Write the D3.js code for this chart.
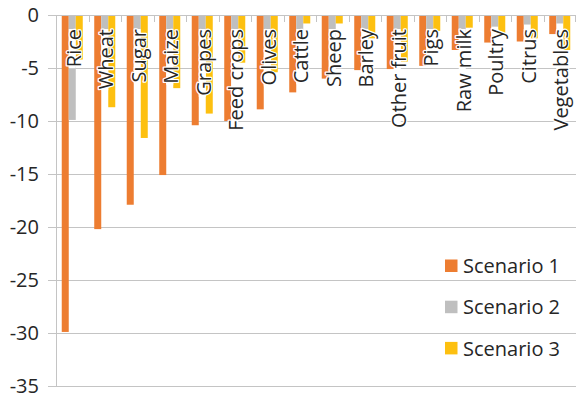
<!DOCTYPE html>
<html><head><meta charset="utf-8">
<script src="https://cdn.jsdelivr.net/npm/d3@7"></script>
<style>body{margin:0;background:#fff}svg{display:block}</style>
</head><body>
<script>
const categories = ["Rice","Wheat","Sugar","Maize","Grapes","Feed crops","Olives","Cattle","Sheep","Barley","Other fruit","Pigs","Raw milk","Poultry","Citrus","Vegetables"];
const seriesNames = ["Scenario 1","Scenario 2","Scenario 3"];
const scenario1 = [-29.9,-20.2,-17.9,-15.1,-10.4,-10.0,-8.9,-7.3,-6.0,-5.2,-5.1,-4.8,-3.3,-2.6,-2.5,-1.8];
const scenario2 = [-9.9,-6.5,-6.4,-5.5,-4.0,-3.5,-3.0,-2.0,-2.0,-2.5,-2.5,-2.0,-2.2,-1.1,-0.9,-0.8];
const scenario3 = [-4.2,-8.7,-11.6,-6.9,-9.3,-4.5,-5.4,-0.8,-0.8,-2.2,-4.4,-1.5,-1.2,-1.9,-2.2,-3.3];
const yTicks = [0,-5,-10,-15,-20,-25,-30,-35];
const colors = ["#ED7D31","#BFBFBF","#FDC010"];

(function(){
const W = 576, H = 396;
const svg = d3.select("body").append("svg").attr("width", W).attr("height", H);
const font = "'Open Sans', sans-serif";
const mL = 56, mR = 576, mT = 15, mB = 386;

const x = d3.scaleBand().domain(categories).range([mL, mR]).paddingInner(0).paddingOuter(0);
const y = d3.scaleLinear().domain([-35, 0]).range([mB, mT]);
const inner = d3.scaleBand().domain(seriesNames).range([0, x.bandwidth()]).paddingInner(0).paddingOuter(0.82);

svg.append("g").selectAll("line").data(yTicks).join("line")
  .attr("x1", mL - 8).attr("x2", mR)
  .attr("y1", d => Math.round(y(d)) + 0.5).attr("y2", d => Math.round(y(d)) + 0.5)
  .attr("stroke", "#c4c4c4").attr("stroke-width", 1);

svg.append("line").attr("x1", mL + 0.5).attr("x2", mL + 0.5)
  .attr("y1", mT).attr("y2", mB + 1).attr("stroke", "#c4c4c4");

svg.append("g").selectAll("text").data(yTicks).join("text")
  .attr("x", 39).attr("y", d => y(d)).attr("dy", "0.34em")
  .attr("text-anchor", "end").attr("font-family", font).attr("font-size", 20)
  .attr("fill", "#262626").text(d => d);

const series = [scenario1, scenario2, scenario3];
series.forEach((vals, si) => {
  svg.append("g").selectAll("rect").data(vals).join("rect")
    .attr("x", (d, i) => x(categories[i]) + inner(seriesNames[si]))
    .attr("width", inner.bandwidth())
    .attr("y", y(0))
    .attr("height", d => y(d) - y(0))
    .attr("fill", colors[si]);
});

const bounds = categories.map(c => x(c)).concat([mR - 1]);
svg.append("g").selectAll("line").data(bounds).join("line")
  .attr("x1", d => Math.round(d) + 0.5).attr("x2", d => Math.round(d) + 0.5)
  .attr("y1", mT).attr("y2", mT + 7).attr("stroke", "#c4c4c4");
svg.append("line").attr("x1", mL).attr("x2", mR)
  .attr("y1", Math.round(y(0)) + 0.5).attr("y2", Math.round(y(0)) + 0.5).attr("stroke", "#c4c4c4");

// category labels with white backing over the middle (Scenario 2) column
const labelEnd = 29;
const lblG = svg.append("g");
const bgG = lblG.append("g");
const txt = lblG.append("g").selectAll("text").data(categories).join("text")
  .attr("transform", d => `translate(${x(d) + x.bandwidth() / 2 + 8.5},${labelEnd}) rotate(-90)`)
  .attr("text-anchor", "end").attr("font-family", font).attr("font-size", 20)
  .attr("fill", "#262626")
  .attr("stroke", "#fff").attr("stroke-width", 2.5).attr("paint-order", "stroke")
  .attr("stroke-linejoin", "round")
  .text(d => d);
txt.each(function(d) {
  const len = this.getComputedTextLength();
  bgG.append("rect")
    .attr("x", x(d) + inner(seriesNames[1]))
    .attr("width", inner.bandwidth())
    .attr("y", labelEnd)
    .attr("height", len + 1)
    .attr("fill", "#fff");
});

const lg = svg.append("g");
seriesNames.forEach((s, i) => {
  const yy = 259.5 + i * 41.2;
  lg.append("rect").attr("x", 445).attr("y", yy).attr("width", 12.5).attr("height", 12.5).attr("fill", colors[i]);
  lg.append("text").attr("x", 463).attr("y", yy + 6.5).attr("dy", "0.36em")
    .attr("font-family", font).attr("font-size", 20).attr("fill", "#262626").text(s);
});
})();
</script>
</body></html>
